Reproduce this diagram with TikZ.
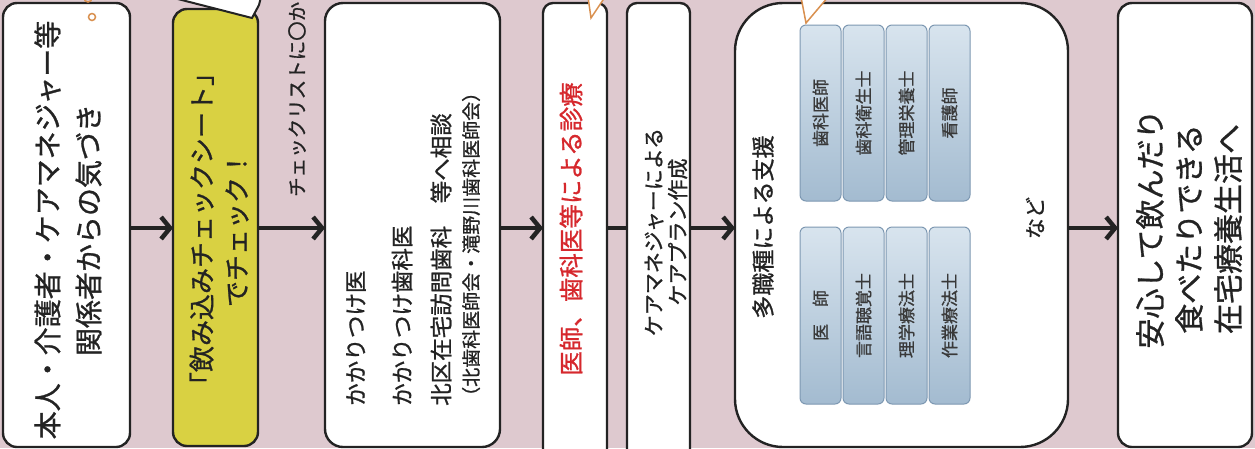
\documentclass[tikz,border=0pt]{standalone}
\usepackage{fontspec}
\setmainfont{Noto Sans CJK JP}[FakeBold=1]
\usetikzlibrary{arrows.meta}
\definecolor{bg}{RGB}{222,201,207}
\definecolor{ylw}{RGB}{217,209,66}
\definecolor{ink}{RGB}{35,35,35}
\definecolor{redtxt}{RGB}{214,40,45}
\definecolor{orng}{RGB}{217,144,79}
\definecolor{bluel}{RGB}{216,228,238}
\definecolor{blued}{RGB}{163,187,208}
\definecolor{blueb}{RGB}{125,152,178}
\tikzset{
  box/.style={draw=ink, line width=2.4pt, fill=white, rounded corners=14pt, inner sep=0pt, outer sep=0pt},
  vtext/.style={rotate=90, inner sep=0pt, text=ink, align=center},
  job/.style={rotate=90, draw=blueb, line width=1pt, rounded corners=6pt, top color=bluel, bottom color=blued,
              minimum height=41pt, inner sep=0pt, text=ink!90, font=\fontsize{17}{17}\selectfont},
  arr/.style={draw=ink, line width=4.5pt, -{Straight Barb[length=9pt,width=22pt]}},
  plain/.style={draw=ink, line width=4.5pt},
  tail/.style={fill=white, draw=orng, line width=1.5pt, line join=miter}
}
\begin{document}
\begin{tikzpicture}[x=1pt,y=-1pt]
\useasboundingbox (0,0) rectangle (1255,448);
\clip (0,0) rectangle (1255,448);
\fill[bg] (0,0) rectangle (1255,448);
\coordinate (mid) at (0,228);
% boxes
\node[box, minimum width=127pt, minimum height=444pt] (A) at (66.5,225) {};
\node[box, fill=ylw, minimum width=85pt, minimum height=437pt] (B) at (215.5,227.5) {};
\node[box, rounded corners=18pt, minimum width=175pt, minimum height=444pt] (C) at (412.5,225) {};
\node[box, rounded corners=10pt, minimum width=64pt, minimum height=480pt] (D) at (575,243) {};
\node[box, rounded corners=10pt, minimum width=63pt, minimum height=480pt] (E) at (658.5,243) {};
\node[box, rounded corners=48pt, minimum width=333pt, minimum height=444pt] (F) at (901.5,225) {};
\node[box, minimum width=134pt, minimum height=444pt] (G) at (1185,225) {};
% bubble over B
\filldraw[fill=white, draw=ink, line width=2pt, line join=miter] (170,-3) -- (252,18) -- (259,5) -- (261,-3);
% orange marks
\draw[orng, line width=1.5pt] (92,17) circle (3.5);
\draw[orng, line width=1.5pt] (88,-2) circle (4);
% job boxes
\node[job, minimum width=176pt] (j1) at (820.5,113) {歯科医師};
\node[job, minimum width=176pt] (j2) at (863.5,113) {歯科衛生士};
\node[job, minimum width=176pt] (j3) at (906.5,113) {管理栄養士};
\node[job, minimum width=176pt] (j4) at (949.5,113) {看護師};
\node[job, minimum width=177pt] (j5) at (820.5,315.5) {医　師};
\node[job, minimum width=177pt] (j6) at (863.5,315.5) {言語聴覚士};
\node[job, minimum width=177pt] (j7) at (906.5,315.5) {理学療法士};
\node[job, minimum width=177pt] (j8) at (949.5,315.5) {作業療法士};
% tails
\filldraw[tail] (588,-3) -- (591,18) -- (605,-3);
\filldraw[tail] (801,-3) -- (806,23) -- (828,-3);
% texts
\node[vtext, font=\fontsize{28}{41}\selectfont] (tA) at (68,230) {本人・介護者・ケアマネジャー等\\関係者からの気づき};
\node[vtext, font=\fontsize{26}{35}\selectfont] (tB) at (219,229) {「飲み込みチェックシート」\\でチェック！};
\node[vtext, anchor=west, font=\fontsize{19.5}{22}\selectfont] (lab) at (297,197) {チェックリストに〇か};
\node[vtext, anchor=west, font=\fontsize{22.5}{24}\selectfont] (c1) at (356,406) {かかりつけ医};
\node[vtext, anchor=west, font=\fontsize{22.5}{24}\selectfont] (c2) at (402,406) {かかりつけ歯科医};
\node[vtext, anchor=west, font=\fontsize{22.5}{24}\selectfont] (c3) at (441,406) {北区在宅訪問歯科　等へ相談};
\node[vtext, anchor=west, font=\fontsize{19}{20}\selectfont] (c4) at (471,406) {（北歯科医師会・滝野川歯科医師会）};
\node[vtext, text=redtxt, font=\fontsize{24.5}{26}\selectfont] (tD) at (571,229) {医師、歯科医等による診療};
\node[vtext, font=\fontsize{21}{24}\selectfont] (tE) at (666,232) {ケアマネジャーによる\\ケアプラン作成};
\node[vtext, font=\fontsize{23}{25}\selectfont] (tF) at (763,227) {多職種による支援};
\node[vtext, font=\fontsize{21}{23}\selectfont] (nado) at (1035,218) {など};
\node[vtext, font=\fontsize{30}{39}\selectfont] (tG) at (1189,229) {安心して飲んだり\\食べたりできる\\在宅療養生活へ};
% connectors
\draw[arr] (A.east |- mid) -- (B.west |- mid);
\draw[arr] (B.east |- mid) -- (C.west |- mid);
\draw[arr] (C.east |- mid) -- (D.west |- mid);
\draw[plain] (D.east |- mid) -- (E.west |- mid);
\draw[arr] (E.east |- mid) -- (F.west |- mid);
\draw[arr] (F.east |- mid) -- (G.west |- mid);
\end{tikzpicture}
\end{document}
